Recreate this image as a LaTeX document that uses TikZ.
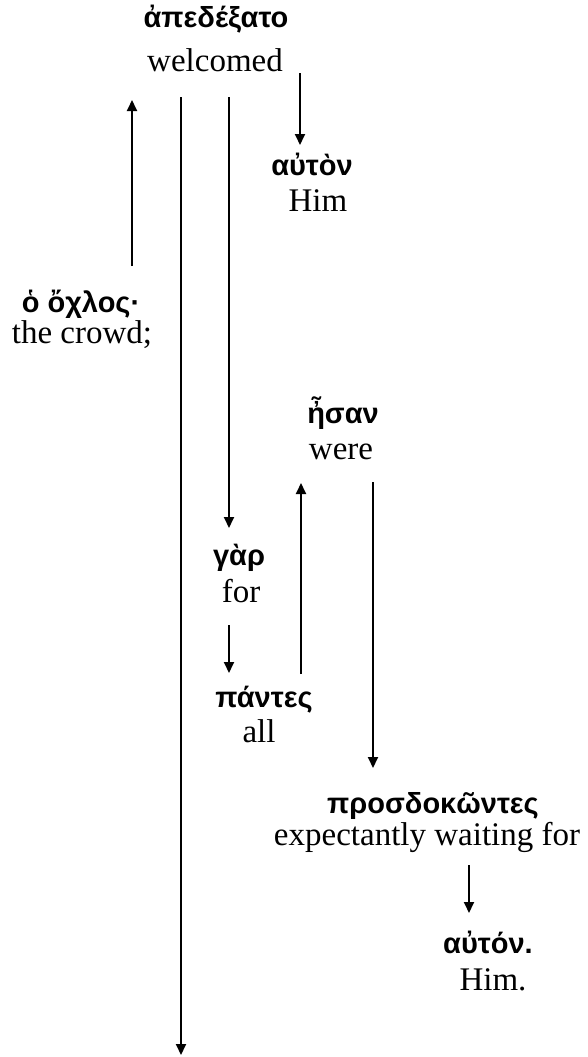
\documentclass[tikz,border=0pt]{standalone}
\usepackage{fontspec}
\setmainfont{Liberation Serif}
\newfontfamily\grk{Liberation Sans}
\usetikzlibrary{arrows.meta}
\tikzset{
  gk/.style={anchor=base, inner sep=0pt, font=\grk\bfseries\fontsize{29}{34}\selectfont},
  en/.style={anchor=base, inner sep=0pt, font=\fontsize{33}{38}\selectfont},
  arr/.style={line width=1.8pt, -{Triangle[width=10pt,length=11pt]}},
}
\begin{document}
\begin{tikzpicture}[x=1pt,y=-1pt]
\useasboundingbox (0,0) rectangle (587,1057);
% words
\node[gk] (g1) at (216,28) {ἀπεδέξατο};
\node[en] (e1) at (215,71) {welcomed};
\node[gk] (g2) at (312,175) {αὐτὸν};
\node[en] (e2) at (318,211) {Him};
\node[gk] (g3) at (81,312) {ὁ ὄχλος·};
\node[en] (e3) at (82,343) {the crowd;};
\node[gk] (g4) at (343,423) {ἦσαν};
\node[en] (e4) at (341,459) {were};
\node[gk] (g5) at (239,565) {γὰρ};
\node[en] (e5) at (241,602) {for};
\node[gk] (g6) at (264,707) {πάντες};
\node[en] (e6) at (259,742) {all};
\node[gk] (g7) at (433,813) {προσδοκῶντες};
\node[en] (e7) at (427,845) {expectantly waiting for};
\node[gk] (g8) at (488,953) {αὐτόν.};
\node[en] (e8) at (493,990) {Him.};
% connector ends
\coordinate (c1a) at (132,266); \coordinate (c1b) at (132,100);
\coordinate (c2a) at (181,97);  \coordinate (c2b) at (181,1055);
\coordinate (c3a) at (229,97);  \coordinate (c3b) at (229,528);
\coordinate (c4a) at (300,73);  \coordinate (c4b) at (300,145);
\coordinate (c5a) at (229,625); \coordinate (c5b) at (229,673);
\coordinate (c6a) at (301,674); \coordinate (c6b) at (301,483);
\coordinate (c7a) at (373,482); \coordinate (c7b) at (373,768);
\coordinate (c8a) at (469,865); \coordinate (c8b) at (469,913);
\draw[arr] (c1a) -- (c1b);
\draw[arr] (c2a) -- (c2b);
\draw[arr] (c3a) -- (c3b);
\draw[arr] (c4a) -- (c4b);
\draw[arr] (c5a) -- (c5b);
\draw[arr] (c6a) -- (c6b);
\draw[arr] (c7a) -- (c7b);
\draw[arr] (c8a) -- (c8b);
\end{tikzpicture}
\end{document}
